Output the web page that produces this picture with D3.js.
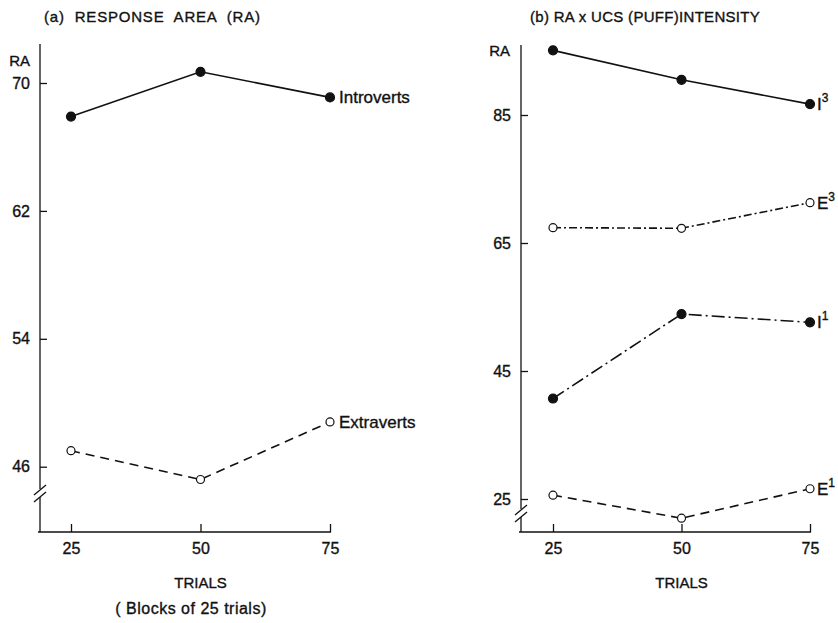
<html>
<head>
<script src="https://cdn.jsdelivr.net/npm/d3@7"></script>
<style>
  body { margin: 0; background: #fff; }
  text { font-family: "Liberation Sans", Arial, sans-serif; fill: #111; stroke: #111; stroke-width: 0.35px; }
</style>
</head>
<body>
<svg width="838" height="623"></svg>
<script>
// data
var trials = [25, 50, 75]
var introverts = [67.9, 70.7, 69.1]
var extraverts = [47.0, 45.2, 48.8]
var leftTicks = [46, 54, 62, 70]

var i3 = [95.1, 90.5, 86.7]
var e3 = [67.4, 67.3, 71.3]
var i1 = [40.7, 53.9, 52.6]
var e1 = [25.6, 22.0, 26.6]
var rightTicks = [25, 45, 65, 85]

var svg = d3.select('svg')

function panel(o) {
    var g = svg.append('g')
    var x = d3.scaleLinear().domain([25, 75]).range(o.xr)
    var y = d3.scaleLinear().domain(o.yd).range(o.yr)

    // y axis with a break
    g.append('line').attr('x1', o.ax).attr('x2', o.ax).attr('y1', o.top).attr('y2', o.brk - 5)
        .attr('stroke', '#111').attr('stroke-width', 1.3)
    g.append('line').attr('x1', o.ax).attr('x2', o.ax).attr('y1', o.brk + 3).attr('y2', o.base)
        .attr('stroke', '#111').attr('stroke-width', 1.3)
    ;[-4, 3].forEach(function(dy) {
        g.append('line').attr('x1', o.ax - 6).attr('x2', o.ax + 6)
            .attr('y1', o.brk + dy + 5).attr('y2', o.brk + dy - 5)
            .attr('stroke', '#111').attr('stroke-width', 1.3)
    })

    var ya = d3.axisLeft(y).tickValues(o.ticks).tickSize(-7).tickPadding(10)
    g.append('g').attr('transform', 'translate(' + o.ax + ',0)').call(ya)
        .call(function(s) {
            s.select('.domain').remove()
            s.selectAll('line').attr('stroke', '#111').attr('stroke-width', 1.3)
            s.selectAll('text').style('font-size', '16px').attr('fill', '#111')
                .style('font-family', '"Liberation Sans", Arial, sans-serif')
        })

    // x axis
    g.append('line').attr('x1', o.ax - 2).attr('x2', o.xr[1] + 1).attr('y1', o.base).attr('y2', o.base)
        .attr('stroke', '#111').attr('stroke-width', 1.3)
    var xa = d3.axisBottom(x).tickValues(trials).tickSize(-8).tickPadding(11)
    g.append('g').attr('transform', 'translate(0,' + o.base + ')').call(xa)
        .call(function(s) {
            s.select('.domain').remove()
            s.selectAll('line').attr('stroke', '#111').attr('stroke-width', 1.3)
            s.selectAll('text').style('font-size', '16px').attr('fill', '#111')
                .style('font-family', '"Liberation Sans", Arial, sans-serif')
        })

    g.append('text').attr('x', (o.xr[0] + o.xr[1]) / 2).attr('y', o.base + 56)
        .attr('text-anchor', 'middle').style('font-size', '15px').text('TRIALS')
    g.append('text').attr('x', o.raX).attr('y', o.raY).attr('text-anchor', 'end')
        .style('font-size', '15px').text('RA')
    g.append('text').attr('x', o.titleX).attr('y', 22).style('font-size', '15px')
        .style('letter-spacing', o.ls).style('word-spacing', o.ws).text(o.title)

    o.series.forEach(function(s) {
        var pts = trials.map(function(t, i) { return [t, s.v[i]] })
        g.append('path').datum(pts)
            .attr('d', d3.line().x(function(d) { return x(d[0]) }).y(function(d) { return y(d[1]) }))
            .attr('fill', 'none').attr('stroke', '#111').attr('stroke-width', 1.6)
            .attr('stroke-dasharray', s.dash)
        g.selectAll(null).data(pts).enter().append('circle')
            .attr('cx', function(d) { return x(d[0]) })
            .attr('cy', function(d) { return y(d[1]) })
            .attr('r', s.filled ? 4.5 : 4)
            .attr('fill', s.filled ? '#111' : '#fff')
            .attr('stroke', '#111').attr('stroke-width', 1.2)
        var last = pts[pts.length - 1]
        var t = g.append('text').attr('x', x(last[0]) + o.lx).attr('y', y(last[1]) + 6)
            .style('font-size', '17px')
        t.append('tspan').text(s.label)
        if (s.sup) t.append('tspan').attr('dy', -8).style('font-size', '12px').text(s.sup)
    })
}

panel({
    xr: [71, 330], yd: [46, 70], yr: [466.7, 83], ax: 40, top: 44, brk: 494, base: 532,
    ticks: leftTicks, raX: 30, raY: 66, titleX: 44, title: '(a) RESPONSE AREA (RA)',
    ls: '0.8px', ws: '5px', lx: 9,
    series: [
        { v: introverts, filled: true, dash: null, label: 'Introverts' },
        { v: extraverts, filled: false, dash: '9,6', label: 'Extraverts' }
    ]
})

panel({
    xr: [553, 810], yd: [25, 85], yr: [499, 115], ax: 521, top: 45, brk: 514, base: 532,
    ticks: rightTicks, raX: 510, raY: 56, titleX: 530, title: '(b) RA x UCS (PUFF)INTENSITY',
    ls: '0.3px', ws: '0px', lx: 7,
    series: [
        { v: i3, filled: true, dash: null, label: 'I', sup: '3' },
        { v: e3, filled: false, dash: '8,3,2,3', label: 'E', sup: '3' },
        { v: i1, filled: true, dash: '13,4,2,4', label: 'I', sup: '1' },
        { v: e1, filled: false, dash: '9,6', label: 'E', sup: '1' }
    ]
})

svg.append('text').attr('x', 191).attr('y', 614).attr('text-anchor', 'middle')
    .style('font-size', '16px').style('letter-spacing', '0.5px').text('( Blocks of 25 trials)')
</script>
</body>
</html>
